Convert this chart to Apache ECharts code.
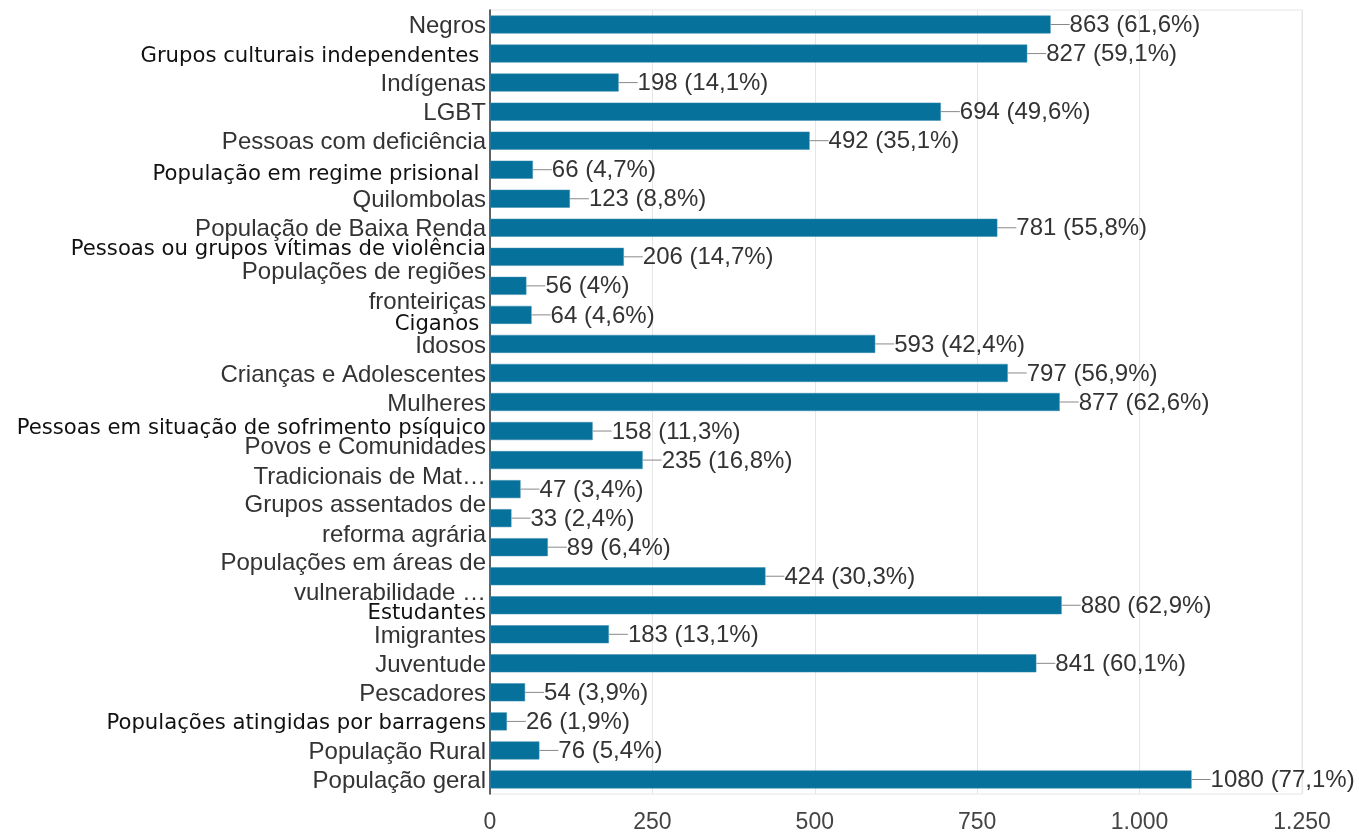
<!DOCTYPE html>
<html>
<head>
<meta charset="utf-8">
<script src="https://cdn.jsdelivr.net/npm/echarts@6/dist/echarts.min.js"></script>
<style>
  html, body { margin: 0; padding: 0; background: #fff; }
</style>
</head>
<body>
<div id="main" style="width:1359px; height:834px"></div>
<script>
// categorias (de cima para baixo)
const categories = [
  'Negros',
  'Grupos culturais independentes ',
  'Indígenas',
  'LGBT',
  'Pessoas com deficiência',
  'População em regime prisional ',
  'Quilombolas',
  'População de Baixa Renda',
  'Pessoas ou grupos vítimas de violência',
  'Populações de regiões\nfronteiriças',
  'Ciganos ',
  'Idosos',
  'Crianças e Adolescentes',
  'Mulheres',
  'Pessoas em situação de sofrimento psíquico',
  'Povos e Comunidades\nTradicionais de Mat…',
  ' ',
  'Grupos assentados de\nreforma agrária',
  '  ',
  'Populações em áreas de\nvulnerabilidade …',
  'Estudantes',
  'Imigrantes',
  'Juventude',
  'Pescadores',
  'Populações atingidas por barragens',
  'População Rural',
  'População geral'
]
const counts = [863, 827, 198, 694, 492, 66, 123, 781, 206, 56, 64, 593, 797, 877, 158, 235, 47, 33, 89, 424, 880, 183, 841, 54, 26, 76, 1080]
const percents = [61.6, 59.1, 14.1, 49.6, 35.1, 4.7, 8.8, 55.8, 14.7, 4, 4.6, 42.4, 56.9, 62.6, 11.3, 16.8, 3.4, 2.4, 6.4, 30.3, 62.9, 13.1, 60.1, 3.9, 1.9, 5.4, 77.1]
const xTicks = [0, 250, 500, 750, 1000, 1250]

// rótulos colados com outra fonte (preta) e seu deslocamento vertical
const pasted = { 1: 3, 5: 5, 8: -7, 10: 10, 14: -3, 20: 8, 24: 2 }

const rich = {
  a: { fontFamily: 'Liberation Sans', fontSize: 24, color: '#333', lineHeight: 30, align: 'right', padding: [4, 0, 0, 0] },
  l: { width: 19, height: 1, backgroundColor: '#888' },
  v: { fontFamily: 'Liberation Sans', fontSize: 24, color: '#333', padding: [2, 0, 0, 0] }
}
Object.keys(pasted).forEach(function (k) {
  const off = pasted[k]
  rich['b' + k] = {
    fontFamily: 'DejaVu Sans', fontSize: 21.2, color: '#111', lineHeight: 30, align: 'right',
    padding: off >= 0 ? [off * 2, 0, 0, 0] : [0, 0, -off * 2, 0]
  }
})

function fmtThousands(v) {
  return String(v).replace(/\B(?=(\d{3})+(?!\d))/g, '.')
}

const chart = echarts.init(document.getElementById('main'))
chart.setOption({
  animation: false,
  backgroundColor: '#fff',
  grid: {
    left: 490, right: 57, top: 10, bottom: 39,
    show: true, borderColor: '#e6e6e6', borderWidth: 1
  },
  xAxis: {
    type: 'value',
    min: xTicks[0],
    max: xTicks[xTicks.length - 1],
    interval: xTicks[1] - xTicks[0],
    axisLine: { show: false },
    axisTick: { show: false },
    splitLine: { lineStyle: { color: '#e6e6e6', width: 1 } },
    axisLabel: {
      margin: 17,
      fontFamily: 'Liberation Sans',
      fontSize: 23,
      color: '#444',
      formatter: fmtThousands
    }
  },
  yAxis: {
    type: 'category',
    inverse: true,
    data: categories,
    axisTick: { show: false },
    axisLine: { lineStyle: { color: '#333', width: 1.5 } },
    axisLabel: {
      margin: 4,
      interval: 0,
      formatter: function (value, idx) {
        if (pasted[idx] !== undefined) return '{b' + idx + '|' + value + '}'
        return '{a|' + value + '}'
      },
      rich: rich
    }
  },
  series: [{
    type: 'bar',
    data: counts,
    barWidth: 18,
    itemStyle: { color: '#06719b', borderColor: '#3a8db0', borderWidth: 0.5 },
    label: {
      show: true,
      position: 'right',
      distance: 0,
      formatter: function (p) {
        return '{l|}{v|' + p.value + ' (' + String(percents[p.dataIndex]).replace('.', ',') + '%)}'
      },
      rich: rich
    }
  }]
})
</script>
</body>
</html>
